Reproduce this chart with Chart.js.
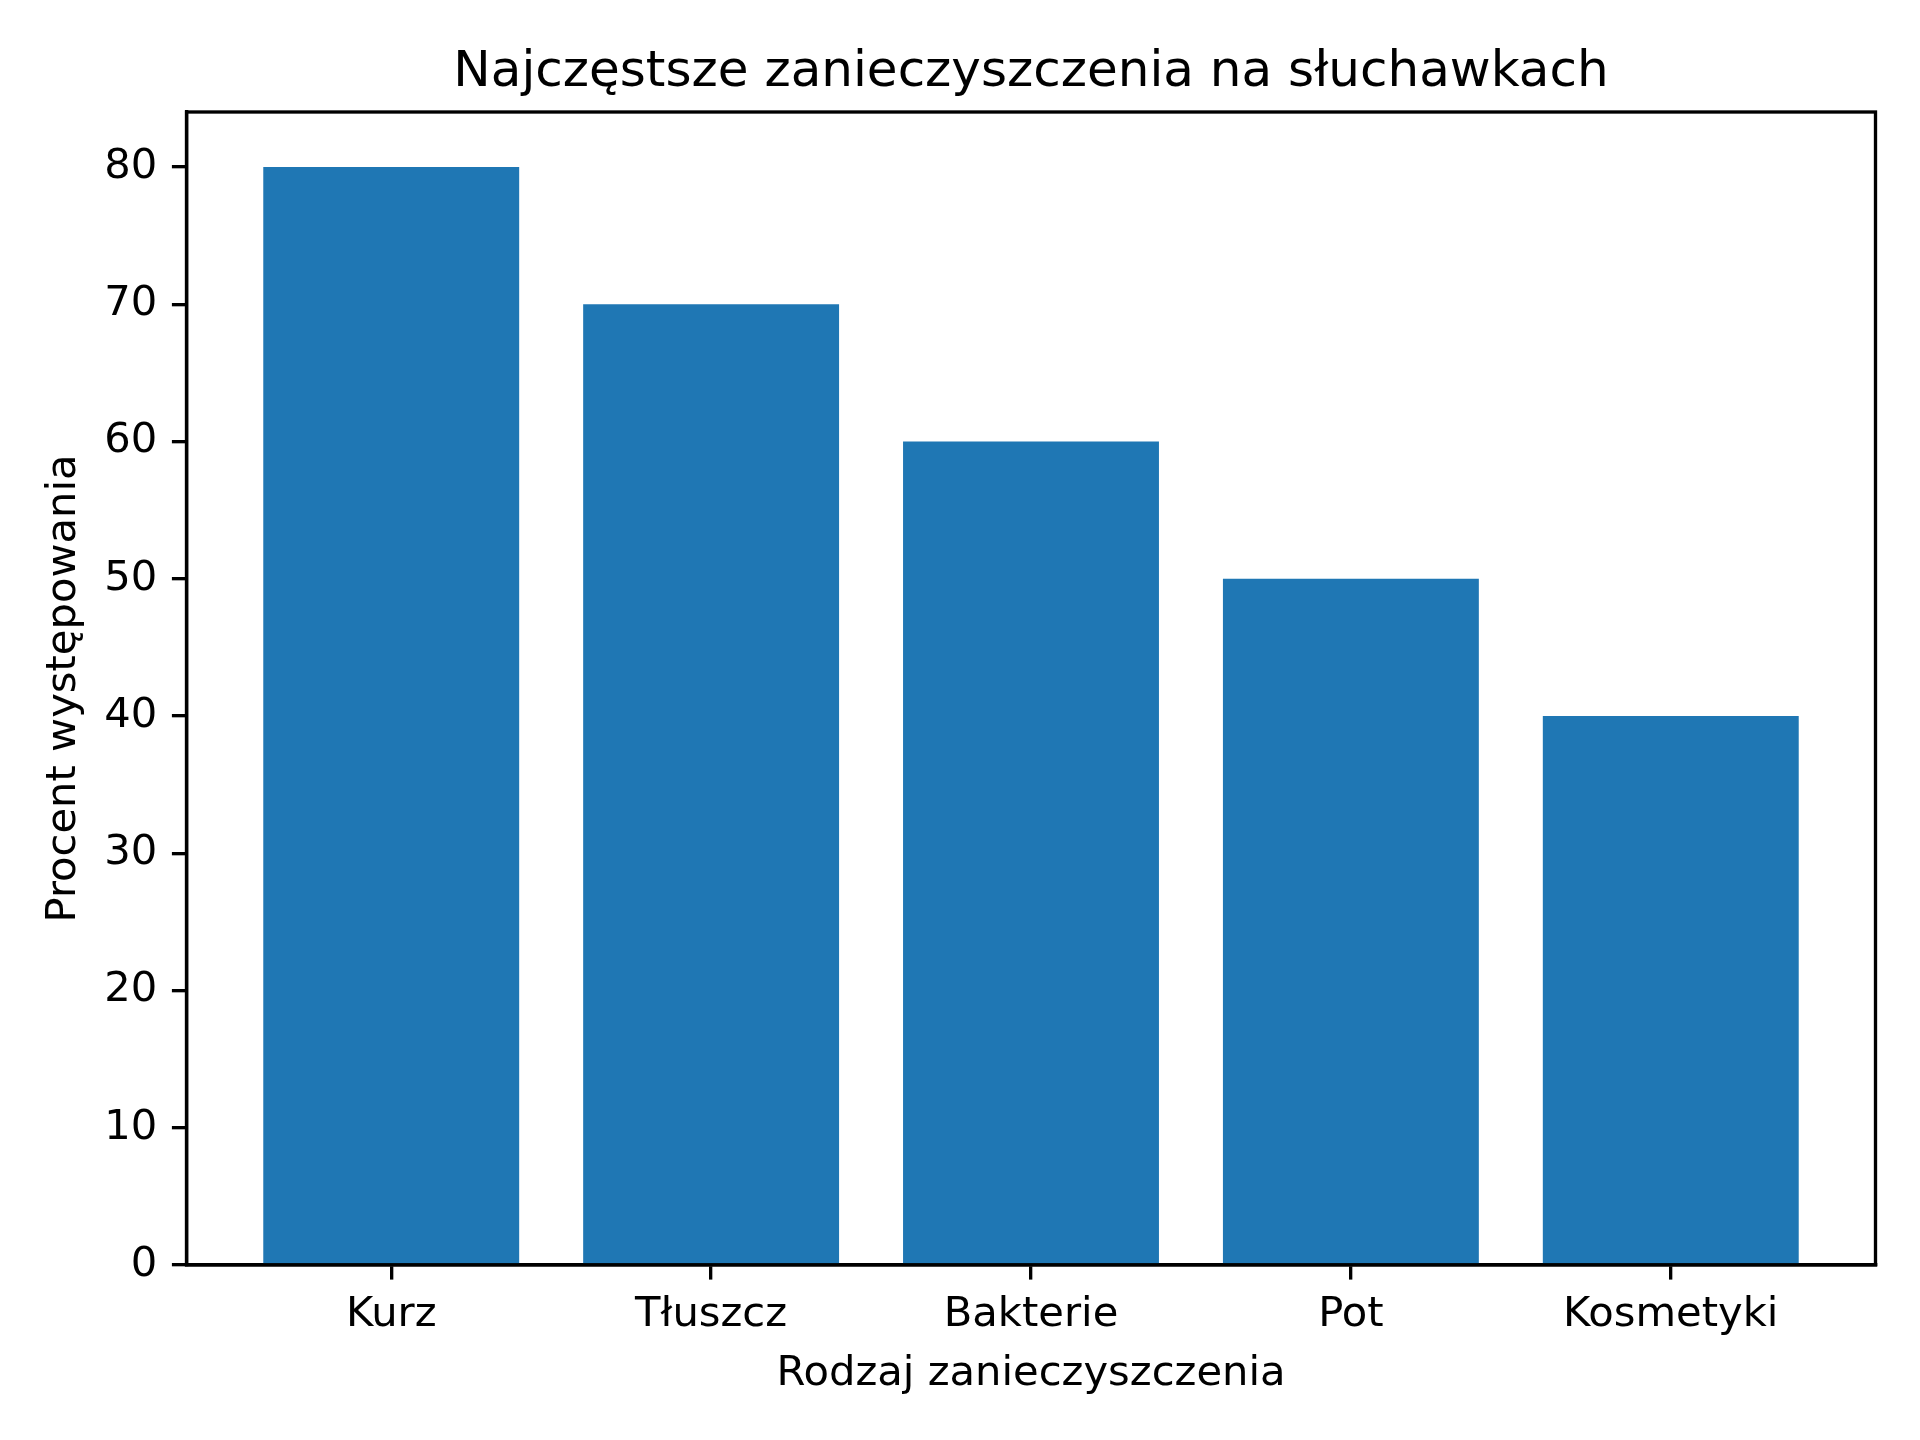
<!DOCTYPE html>
<html lang="pl">
<head>
<meta charset="utf-8">
<title>Najczęstsze zanieczyszczenia na słuchawkach</title>
<script src="https://cdn.jsdelivr.net/npm/chart.js@4/dist/chart.umd.min.js"></script>
<style>
  html, body { margin: 0; padding: 0; background: #fff; }
  canvas { display: block; }
</style>
</head>
<body>
<canvas id="chart" width="1920" height="1440"></canvas>
<script>
// Data
const categories = ['Kurz', 'Tłuszcz', 'Bakterie', 'Pot', 'Kosmetyki'];
const percentValues = [80, 70, 60, 50, 40];
const yTicks = [0, 10, 20, 30, 40, 50, 60, 70, 80];

const chartTitle = 'Najczęstsze zanieczyszczenia na słuchawkach';
const xTitle = 'Rodzaj zanieczyszczenia';
const yTitle = 'Procent występowania';

// matplotlib-like sizes at 300 dpi
const FONT = "'DejaVu Sans', 'Liberation Sans', sans-serif";
const LINE = 3.33;
const TICK_LEN = 14.6;

// draw the top and right spines (plus bottom/left on top of the bars)
const frameBox = {
    id: 'frameBox',
    afterDatasetsDraw(chart) {
        const { ctx, chartArea } = chart;
        ctx.save();
        ctx.strokeStyle = '#000';
        ctx.lineWidth = LINE;
        ctx.strokeRect(chartArea.left, chartArea.top,
            chartArea.right - chartArea.left, chartArea.bottom - chartArea.top);
        ctx.restore();
    }
};

const ctx = document.getElementById('chart').getContext('2d');

new Chart(ctx, {
    type: 'bar',
    data: {
        datasets: [{
            data: percentValues.map((v, i) => ({ x: i, y: v })),
            backgroundColor: '#1f77b4',
            borderWidth: 0,
            categoryPercentage: 1.0,
            barPercentage: 0.8
        }]
    },
    options: {
        responsive: false,
        animation: false,
        devicePixelRatio: 1,
        layout: { padding: { left: 0, right: 44.5, top: 0, bottom: 0 } },
        plugins: {
            legend: { display: false },
            tooltip: { enabled: false },
            title: {
                display: true,
                fullSize: false,
                text: chartTitle,
                color: '#000',
                font: { family: FONT, size: 50, weight: 'normal', lineHeight: 1.2 },
                padding: { top: 43, bottom: 9 }
            }
        },
        scales: {
            x: {
                type: 'linear',
                offset: false,
                min: -0.64,
                max: 4.64,
                afterBuildTicks: (scale) => {
                    scale.ticks = categories.map((c, i) => ({ value: i }));
                },
                afterFit: (scale) => { scale.height = 175; },
                ticks: {
                    color: '#000',
                    padding: 11,
                    maxRotation: 0,
                    autoSkip: false,
                    font: { family: FONT, size: 41.67 },
                    callback: (value) => categories[value]
                },
                grid: {
                    offset: false,
                    drawOnChartArea: false,
                    drawTicks: true,
                    tickLength: TICK_LEN,
                    tickWidth: LINE,
                    tickColor: '#000',
                    lineWidth: LINE
                },
                border: { display: true, color: '#000', width: LINE },
                title: {
                    display: true,
                    text: xTitle,
                    color: '#000',
                    font: { family: FONT, size: 41.67, lineHeight: 1.2 },
                    padding: { top: 0, bottom: 40.7 }
                }
            },
            y: {
                min: 0,
                max: 84,
                afterBuildTicks: (scale) => {
                    scale.ticks = yTicks.map(v => ({ value: v }));
                },
                afterFit: (scale) => { scale.width = 186.5; },
                ticks: {
                    color: '#000',
                    padding: 14.6,
                    font: { family: FONT, size: 41.67 }
                },
                grid: {
                    drawOnChartArea: false,
                    drawTicks: true,
                    tickLength: TICK_LEN,
                    tickWidth: LINE,
                    tickColor: '#000',
                    lineWidth: LINE
                },
                border: { display: true, color: '#000', width: LINE },
                title: {
                    display: true,
                    text: yTitle,
                    color: '#000',
                    font: { family: FONT, size: 41.67, lineHeight: 1.2 },
                    padding: { top: 39.6, bottom: 0 }
                }
            }
        }
    },
    plugins: [frameBox]
});
</script>
</body>
</html>
